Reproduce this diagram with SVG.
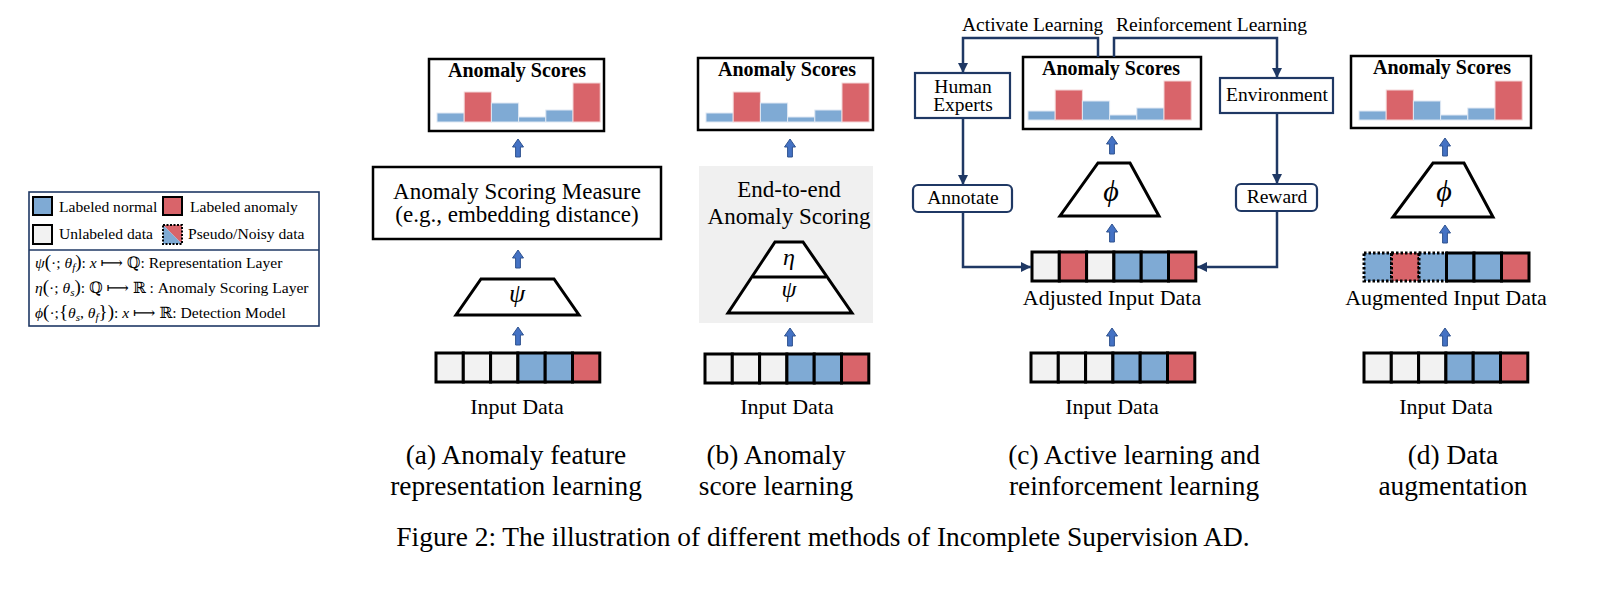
<svg xmlns="http://www.w3.org/2000/svg" xmlns:xlink="http://www.w3.org/1999/xlink" width="1606" height="594" viewBox="0 0 1606 594">
<style>
text{font-family:"Liberation Serif","DejaVu Serif",serif;fill:#000}
.lg{font-size:15.6px}
.bp{font-size:19px}
.cap{font-size:27.4px;text-anchor:middle}
.lbl{font-size:22px;text-anchor:middle}
.mid{font-size:23px;text-anchor:middle}
.sm{font-size:19.5px;text-anchor:middle}
.top{font-size:19.5px}
.ttl{font-size:20px;font-weight:bold;text-anchor:middle}
.it{font-style:italic}
.box{fill:#fff;stroke:#000;stroke-width:2.5}
.nbox{fill:#fff;stroke:#1f3864;stroke-width:2.2}
.trap{fill:#fff;stroke:#000;stroke-width:3;stroke-linejoin:miter}
.cell{stroke:#000;stroke-width:3}
.dot{stroke:#000;stroke-width:3;stroke-dasharray:2.5 2}
.u{fill:#f2f2f2}
.n{fill:#7faad4}
.a{fill:#d9646a}
.bn{fill:#7faad4;stroke:#dfe8f3;stroke-width:1}
.ba{fill:#d9646a;stroke:#f3d6d8;stroke-width:1}
.con{fill:none;stroke:#1f3864;stroke-width:2.5}
.blue{fill:#4472c4;stroke:#2f528f;stroke-width:1}
</style>
<defs>
<marker id="ah" viewBox="0 0 10 10" refX="10" refY="5" markerWidth="10" markerHeight="10" markerUnits="userSpaceOnUse" orient="auto">
<path d="M0,0 L10,5 L0,10 Z" fill="#1f3864"/>
</marker>
<path id="up" d="M0,0 L5.5,8 L2.4,8 L2.4,18 L-2.4,18 L-2.4,8 L-5.5,8 Z"/>
<g id="bars">
<rect class="bn" x="0" y="-9" width="27.2" height="9"/>
<rect class="ba" x="27.2" y="-30" width="27.2" height="30"/>
<rect class="bn" x="54.4" y="-19" width="27.2" height="19"/>
<rect class="bn" x="81.6" y="-5" width="27.2" height="5"/>
<rect class="bn" x="108.8" y="-12" width="27.2" height="12"/>
<rect class="ba" x="136" y="-39" width="27.2" height="39"/>
</g>
<g id="rowIn">
<rect class="cell u" x="0" y="0" width="27.3" height="29"/>
<rect class="cell u" x="27.3" y="0" width="27.3" height="29"/>
<rect class="cell u" x="54.6" y="0" width="27.3" height="29"/>
<rect class="cell n" x="81.9" y="0" width="27.3" height="29"/>
<rect class="cell n" x="109.2" y="0" width="27.3" height="29"/>
<rect class="cell a" x="136.5" y="0" width="27.3" height="29"/>
</g>
</defs>
<rect width="1606" height="594" fill="#fff"/>

<!-- Legend -->
<g id="legend">
<rect x="29" y="192" width="290" height="134" fill="#fff" stroke="#1f3864" stroke-width="1.6"/>
<line x1="29" y1="250" x2="319" y2="250" stroke="#1f3864" stroke-width="1.6"/>
<rect class="n" x="33" y="197" width="19" height="18" stroke="#000" stroke-width="2"/>
<text class="lg" x="59" y="212">Labeled normal</text>
<rect class="a" x="163" y="197" width="19" height="18" stroke="#000" stroke-width="2"/>
<text class="lg" x="190" y="212">Labeled anomaly</text>
<rect class="u" x="33" y="225" width="19" height="19" stroke="#000" stroke-width="2"/>
<text class="lg" x="59" y="239">Unlabeled data</text>
<path class="a" d="M163,225 H182 V244 Z"/>
<path class="n" d="M163,225 V244 H182 Z"/>
<rect x="163" y="225" width="19" height="19" fill="none" stroke="#000" stroke-width="2" stroke-dasharray="2 1.5"/>
<text class="lg" x="188" y="239">Pseudo/Noisy data</text>
<text class="lg" x="35" y="268"><tspan class="it">ψ</tspan><tspan class="bp">(</tspan>·; <tspan class="it">θ</tspan><tspan class="it" dy="3" font-size="11">f</tspan><tspan class="bp" dy="-3">)</tspan>: <tspan class="it">x</tspan> ⟼ ℚ: Representation Layer</text>
<text class="lg" x="35" y="293"><tspan class="it">η</tspan><tspan class="bp">(</tspan>·; <tspan class="it">θ</tspan><tspan class="it" dy="3" font-size="11">s</tspan><tspan class="bp" dy="-3">)</tspan>: ℚ ⟼ ℝ : Anomaly Scoring Layer</text>
<text class="lg" x="35" y="318"><tspan class="it">ϕ</tspan><tspan class="bp">(</tspan>·;<tspan class="bp">{</tspan><tspan class="it">θ</tspan><tspan class="it" dy="3" font-size="11">s</tspan><tspan dy="-3">, </tspan><tspan class="it">θ</tspan><tspan class="it" dy="3" font-size="11">f</tspan><tspan class="bp" dy="-3">})</tspan>: <tspan class="it">x</tspan> ⟼ ℝ: Detection Model</text>
</g>

<!-- Panel (a) -->
<g id="a-scores">
<rect class="box" x="429" y="59" width="175" height="72"/>
<text class="ttl" x="517" y="77">Anomaly Scores</text>
<use href="#bars" x="437" y="122"/>
</g>
<g id="a-measure">
<rect class="box" x="373" y="167" width="288" height="72"/>
<text class="mid" x="517" y="199">Anomaly Scoring Measure</text>
<text class="mid" x="517" y="222">(e.g., embedding distance)</text>
</g>
<g id="a-psi">
<path class="trap" d="M481,279 H554 L579,315 H456 Z"/>
<text class="it" x="517" y="302" font-size="26" text-anchor="middle">ψ</text>
</g>
<g id="a-input">
<use href="#rowIn" x="436" y="353"/>
<text class="lbl" x="517" y="414">Input Data</text>
</g>
<g id="a-caption">
<text class="cap" x="516" y="464">(a) Anomaly feature</text>
<text class="cap" x="516" y="495">representation learning</text>
</g>

<!-- Panel (b) -->
<g id="b-scores">
<rect class="box" x="698" y="58" width="175" height="72"/>
<text class="ttl" x="787" y="76">Anomaly Scores</text>
<use href="#bars" x="706" y="122"/>
</g>
<g id="b-model">
<rect x="699" y="166" width="174" height="157" fill="#f0f0f0"/>
<text class="mid" x="789" y="197">End-to-end</text>
<text class="mid" x="789" y="224">Anomaly Scoring</text>
<path class="trap" d="M775,242 H803 L852,313 H728 Z"/>
<line x1="753" y1="277" x2="826" y2="277" stroke="#000" stroke-width="3"/>
<text class="it" x="789" y="265" font-size="24" text-anchor="middle">η</text>
<text class="it" x="789" y="297" font-size="24" text-anchor="middle">ψ</text>
</g>
<g id="b-input">
<use href="#rowIn" x="705" y="354"/>
<text class="lbl" x="787" y="414">Input Data</text>
</g>
<g id="b-caption">
<text class="cap" x="776" y="464">(b) Anomaly</text>
<text class="cap" x="776" y="495">score learning</text>
</g>

<!-- Panel (c) -->
<g id="c-scores">
<rect class="box" x="1023" y="57" width="178" height="72"/>
<text class="ttl" x="1111" y="75">Anomaly Scores</text>
<use href="#bars" x="1028" y="120"/>
</g>
<g id="c-human">
<rect class="nbox" x="915" y="73" width="95" height="45"/>
<text class="sm" x="963" y="93">Human</text>
<text class="sm" x="963" y="111">Experts</text>
</g>
<g id="c-env">
<rect class="nbox" x="1220" y="78" width="113" height="35"/>
<text class="sm" x="1277" y="101">Environment</text>
</g>
<g id="c-annotate">
<rect class="nbox" x="913" y="185" width="99" height="27" rx="5"/>
<text class="sm" x="963" y="204">Annotate</text>
</g>
<g id="c-reward">
<rect class="nbox" x="1236" y="184" width="81" height="27" rx="5"/>
<text class="sm" x="1277" y="203">Reward</text>
</g>
<g id="c-phi">
<path class="trap" d="M1098,163 H1130 L1159,216 H1060 Z"/>
<text class="it" x="1111" y="201" font-size="30" text-anchor="middle">ϕ</text>
</g>
<g id="c-adjusted">
<rect class="cell u" x="1032" y="252" width="27.3" height="29"/>
<rect class="cell a" x="1059.3" y="252" width="27.3" height="29"/>
<rect class="cell u" x="1086.6" y="252" width="27.3" height="29"/>
<rect class="cell n" x="1113.9" y="252" width="27.3" height="29"/>
<rect class="cell n" x="1141.2" y="252" width="27.3" height="29"/>
<rect class="cell a" x="1168.5" y="252" width="27.3" height="29"/>
<text class="lbl" x="1112" y="305">Adjusted Input Data</text>
</g>
<g id="c-input">
<use href="#rowIn" x="1031" y="353"/>
<text class="lbl" x="1112" y="414">Input Data</text>
</g>
<g id="c-caption">
<text class="cap" x="1134" y="464">(c) Active learning and</text>
<text class="cap" x="1134" y="495">reinforcement learning</text>
</g>

<!-- Panel (d) -->
<g id="d-scores">
<rect class="box" x="1351" y="56" width="180" height="72"/>
<text class="ttl" x="1442" y="74">Anomaly Scores</text>
<use href="#bars" x="1359" y="120"/>
</g>
<g id="d-phi">
<path class="trap" d="M1433,163 H1464 L1493,217 H1393 Z"/>
<text class="it" x="1444" y="201" font-size="30" text-anchor="middle">ϕ</text>
</g>
<g id="d-augmented">
<rect class="dot n" x="1364" y="253" width="27.5" height="28"/>
<rect class="dot a" x="1391.5" y="253" width="27.5" height="28"/>
<rect class="dot n" x="1419" y="253" width="27.5" height="28"/>
<rect class="cell n" x="1446.5" y="253" width="27.5" height="28"/>
<rect class="cell n" x="1474" y="253" width="27.5" height="28"/>
<rect class="cell a" x="1501.5" y="253" width="27.5" height="28"/>
<text class="lbl" x="1446" y="305">Augmented Input Data</text>
</g>
<g id="d-input">
<use href="#rowIn" x="1364" y="353"/>
<text class="lbl" x="1446" y="414">Input Data</text>
</g>
<g id="d-caption">
<text class="cap" x="1453" y="464">(d) Data</text>
<text class="cap" x="1453" y="495">augmentation</text>
</g>

<!-- Connectors -->
<g id="connectors">
<use href="#up" class="blue" x="518" y="139"/>
<use href="#up" class="blue" x="518" y="250"/>
<use href="#up" class="blue" x="518" y="327"/>
<use href="#up" class="blue" x="790" y="139"/>
<use href="#up" class="blue" x="790" y="328"/>
<use href="#up" class="blue" x="1112" y="136"/>
<use href="#up" class="blue" x="1112" y="224"/>
<use href="#up" class="blue" x="1112" y="328"/>
<use href="#up" class="blue" x="1445" y="138"/>
<use href="#up" class="blue" x="1445" y="225"/>
<use href="#up" class="blue" x="1445" y="328"/>
<path class="con" d="M1098,57 V38 H963 V73" marker-end="url(#ah)"/>
<path class="con" d="M1114,57 V38 H1277 V78" marker-end="url(#ah)"/>
<path class="con" d="M963,118 V185" marker-end="url(#ah)"/>
<path class="con" d="M1277,113 V184" marker-end="url(#ah)"/>
<path class="con" d="M963,212 V267 H1031" marker-end="url(#ah)"/>
<path class="con" d="M1277,211 V267 H1197" marker-end="url(#ah)"/>
<text class="top" x="962" y="31">Activate Learning</text>
<text class="top" x="1116" y="31">Reinforcement Learning</text>
</g>

<text id="figcaption" class="cap" x="823" y="546">Figure 2: The illustration of different methods of Incomplete Supervision AD.</text>
</svg>
